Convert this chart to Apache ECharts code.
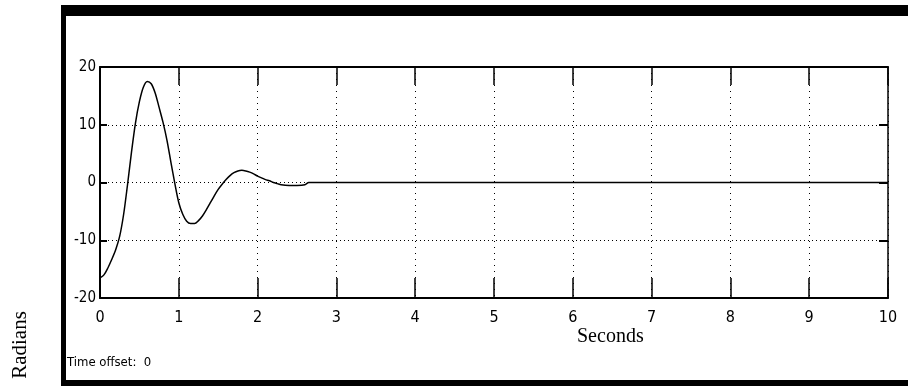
<!DOCTYPE html>
<html>
<head>
<meta charset="utf-8">
<script src="https://cdn.jsdelivr.net/npm/echarts@6/dist/echarts.min.js"></script>
<style>
html,body{margin:0;padding:0;background:#fff;}
#chart{width:908px;height:389px;}
</style>
</head>
<body>
<div id="chart"></div>
<script>
// Time (seconds)
var times = [0,0.05,0.1,0.15,0.2,0.25,0.3,0.35,0.4,0.45,0.5,0.55,0.6,0.65,0.7,0.75,0.8,0.85,0.9,0.95,
  1.0,1.05,1.1,1.15,1.2,1.25,1.3,1.35,1.4,1.45,1.5,1.55,1.6,1.65,1.7,1.75,1.8,1.85,1.9,1.95,
  2.0,2.05,2.1,2.15,2.2,2.25,2.3,2.4,2.5,2.6,2.65,3,5,10];
// Angle (radians)
var radians = [-16.5,-16.0,-14.8,-13.3,-11.6,-9.3,-5.5,-0.3,5.3,10.3,14.0,16.5,17.5,17.1,15.5,13.0,10.4,7.3,3.5,-0.2,
  -3.5,-5.5,-6.7,-7.1,-7.1,-6.6,-5.8,-4.7,-3.5,-2.3,-1.2,-0.3,0.5,1.2,1.7,2.0,2.1,2.0,1.8,1.5,
  1.1,0.8,0.5,0.3,0.0,-0.2,-0.4,-0.5,-0.5,-0.4,0,0,0,0];
var xTickLabels = ['0','1','2','3','4','5','6','7','8','9','10'];
var yTicks = [-20,-10,0,10,20];

var narrow = '"Liberation Sans Narrow","DejaVu Sans Condensed",sans-serif';
var serif = '"Liberation Serif","DejaVu Serif",serif';

var chart = echarts.init(document.getElementById('chart'), null, {renderer:'canvas'});
var data = times.map(function(t,i){return [t, radians[i]];});

chart.setOption({
  animation:false,
  backgroundColor:'#fff',
  grid:{left:100, top:67, right:20, bottom:91, show:false},
  xAxis:[{
    type:'value', min:0, max:10, interval:1, position:'bottom',
    axisLine:{show:true, onZero:false, lineStyle:{color:'#000', width:2}},
    axisTick:{show:true, inside:true, length:20, lineStyle:{color:'#000', width:1.5}},
    axisLabel:{color:'#000', fontFamily:narrow, fontSize:16, margin:12,
      formatter:function(v){return xTickLabels[Math.round(v)];}},
    splitLine:{show:true, lineStyle:{color:'#000', type:[1,5], width:1}}
  },{
    type:'value', min:0, max:10, interval:1, position:'top',
    axisLine:{show:true, onZero:false, lineStyle:{color:'#000', width:2}},
    axisTick:{show:true, inside:true, length:18, lineStyle:{color:'#000', width:1.5}},
    axisLabel:{show:false}, splitLine:{show:false}
  }],
  yAxis:[{
    type:'value', min:-20, max:20, interval:10, position:'left',
    axisLine:{show:true, onZero:false, lineStyle:{color:'#000', width:2}},
    axisTick:{show:true, inside:true, length:7, lineStyle:{color:'#000', width:2}},
    axisLabel:{color:'#000', fontFamily:narrow, fontSize:15, margin:4},
    splitLine:{show:true, lineStyle:{color:'#000', type:[1,3], width:1}}
  },{
    type:'value', min:-20, max:20, interval:10, position:'right',
    axisLine:{show:true, onZero:false, lineStyle:{color:'#000', width:1.5}},
    axisTick:{show:true, inside:true, length:9, lineStyle:{color:'#000', width:2}},
    axisLabel:{show:false}, splitLine:{show:false}
  }],
  series:[{
    type:'line', data:data, showSymbol:false, smooth:0.3,
    xAxisIndex:0, yAxisIndex:0,
    lineStyle:{color:'#000', width:1.5}, z:5
  }],
  graphic:[
    {type:'rect', shape:{x:61, y:5, width:847, height:11}, style:{fill:'#000'}},
    {type:'rect', shape:{x:61, y:5, width:5, height:381}, style:{fill:'#000'}},
    {type:'rect', shape:{x:61, y:380, width:847, height:6}, style:{fill:'#000'}},
    {type:'text', left:577, top:327, style:{text:'Seconds', font:'20px '+serif, fill:'#000'}},
    {type:'text', x:20, y:345, rotation:Math.PI/2, style:{text:'Radians', font:'21px '+serif, fill:'#000', align:'center', verticalAlign:'middle'}},
    {type:'text', left:67, top:356, style:{text:'Time offset:  0', font:'13px '+narrow, fill:'#000'}}
  ]
});
</script>
</body>
</html>
